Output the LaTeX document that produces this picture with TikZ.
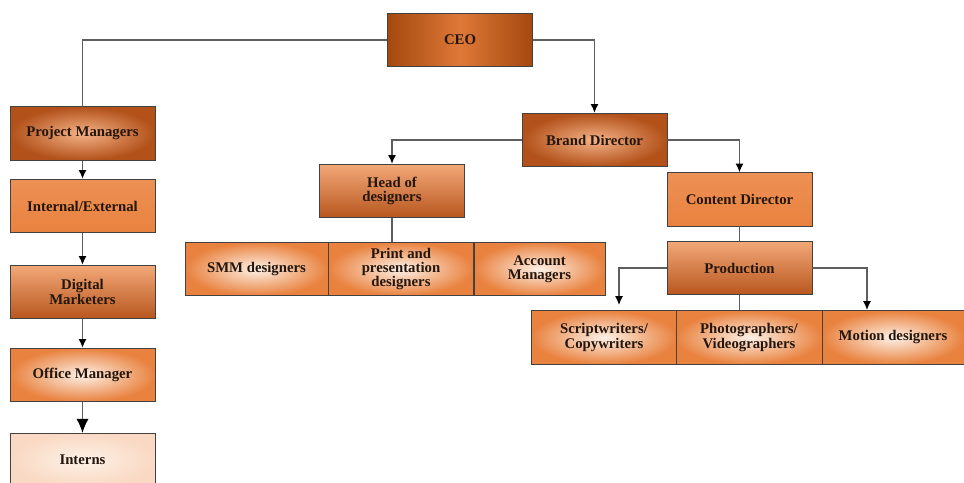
\documentclass[tikz,border=0pt]{standalone}
\usepackage{fontspec}
\setmainfont{Liberation Serif}
\usetikzlibrary{arrows.meta}
\definecolor{ink}{HTML}{24160C}
\definecolor{wire}{HTML}{5E5E5E}
\definecolor{rust}{HTML}{B2511A}
\definecolor{ember}{HTML}{A4490F}
\definecolor{amber}{HTML}{E9823F}
\definecolor{peach}{HTML}{F5B287}
\definecolor{cream}{HTML}{FDF1E7}
\definecolor{pale}{HTML}{F9D9C3}

\begin{document}
\begin{tikzpicture}[x=0.02cm,y=-0.02cm,text=ink,>=Latex,
  font=\bfseries\fontsize{8.4}{8.1}\selectfont,
  box/.style={draw=wire!70!black,line width=0.5pt,minimum width=2.9cm,
    minimum height=1.07cm,align=center,inner sep=1pt},
  glowdark/.style={box,inner color=peach,outer color=rust},
  glowlight/.style={box,inner color=cream,outer color=amber},
  fadedown/.style={box,top color=peach!80!amber,bottom color=rust!90!amber},
  flatbox/.style={box,top color=amber!70!peach,bottom color=amber},
  link/.style={draw=wire,line width=0.7pt},
  tip/.style={link,-{Latex[length=5pt,width=4.5pt,color=black]}}]
  \useasboundingbox (0,0) rectangle (964,483);

  % top of the chart
  \node[box,shading angle=110,left color=ember,right color=ember,
        middle color=amber!80!rust] (ceo) at (460,40) {CEO};
  \node[glowdark] (brand) at (594.5,140) {Brand Director};

  % left column
  \node[glowdark] (pm) at (82.5,133.5) {Project Managers};
  \node[flatbox] (intext) at (82.5,206) {Internal/External};
  \node[fadedown] (digital) at (82.5,292) {Digital\\Marketers};
  \node[glowlight] (office) at (82.5,375) {Office Manager};
  \node[box,inner color=cream,outer color=pale] (interns) at (82.5,460)
    {Interns};

  % designers
  \node[fadedown] (headdes) at (392,191) {Head of\\designers};
  \node[glowlight,minimum width=2.86cm] (smm) at (256.5,269) {SMM designers};
  \node[glowlight] (print) at (401,269) {Print and\\presentation\\designers};
  \node[glowlight,minimum width=2.62cm] (account) at (539.5,269)
    {Account\\Managers};

  % content
  \node[flatbox] (content) at (739.5,199.5) {Content Director};
  \node[fadedown] (prod) at (739.5,268) {Production};
  \node[glowlight] (script) at (604,337.5) {Scriptwriters/\\Copywriters};
  \node[glowlight,minimum width=2.92cm] (photo) at (749,337.5)
    {Photographers/\\Videographers};
  \node[glowlight,minimum width=2.84cm] (motion) at (893,337.5)
    {Motion designers};
  \coordinate (scriptin) at (619,305);
  \coordinate (motionin) at (867,310);

  \draw[link] (ceo.west) -| (pm.north);
  \draw[tip] (ceo.east) -| (brand.north);
  \draw[tip] (brand.west) -| (headdes.north);
  \draw[tip] (brand.east) -| (content.north);
  \draw[link] (headdes.south) -- (headdes.south |- print.north);
  \draw[link] (content.south) -- (prod.north);
  \draw[tip] (prod.west) -| (scriptin);
  \draw[tip] (prod.east) -| (motionin);
  \draw[link] (prod.south) -- (prod.south |- photo.north);

  \draw[tip] (pm) -- (intext);
  \draw[tip] (intext) -- (digital);
  \draw[tip] (digital) -- (office);
  \draw[link,-{Latex[length=8pt,width=7pt,color=black]}] (office) -- (interns);
\end{tikzpicture}
\end{document}
